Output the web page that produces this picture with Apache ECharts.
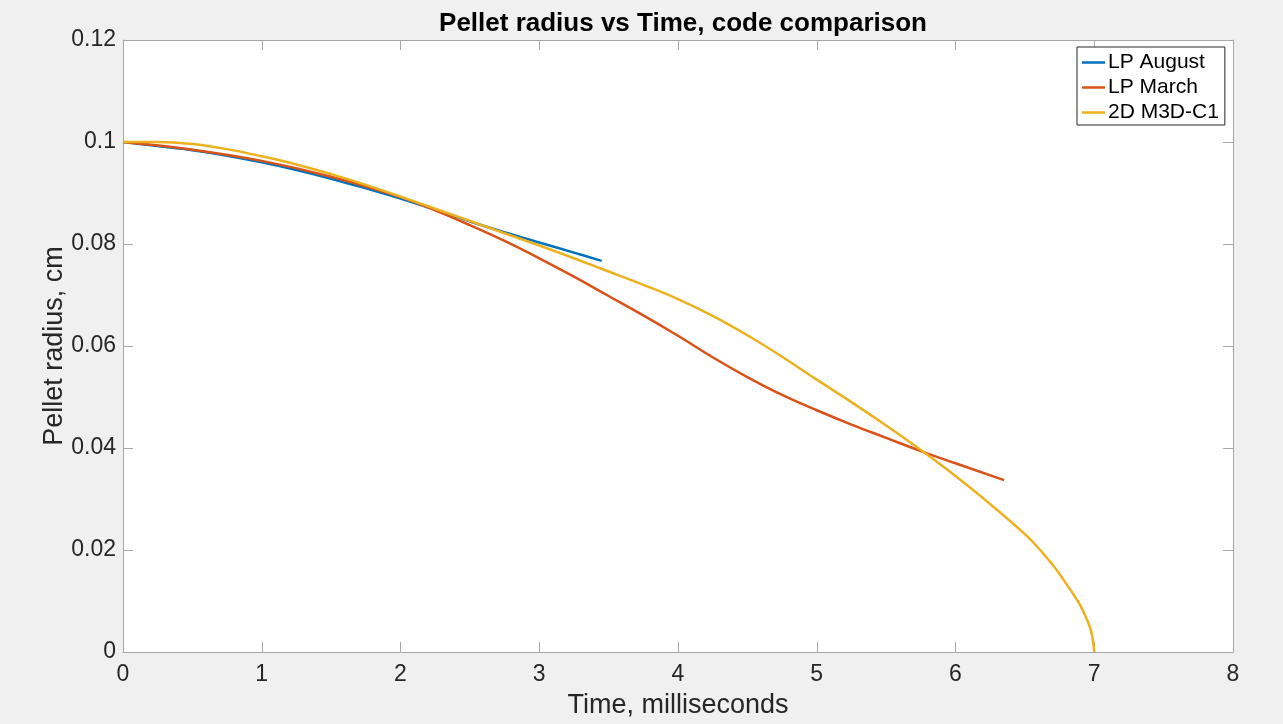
<!DOCTYPE html>
<html>
<head>
<meta charset="utf-8">
<title>Pellet radius vs Time</title>
<script src="https://cdn.jsdelivr.net/npm/echarts@6/dist/echarts.min.js"></script>
<style>
  html, body { margin: 0; padding: 0; background: #f0f0f0; overflow: hidden; }
  #chart { width: 100vw; height: 100vh; }
</style>
</head>
<body>
<div id="chart"></div>
<script>
// Time in milliseconds, radius in cm
const augustTime = [0, 0.25, 0.5, 0.75, 1, 1.25, 1.5, 1.75, 2, 2.25, 2.5, 2.75, 3, 3.25, 3.45];
const augustRadius = [0.1000, 0.0992, 0.0984, 0.0973, 0.0960, 0.0945, 0.0928, 0.0909, 0.0889, 0.0867, 0.0844, 0.0823, 0.0803, 0.0783, 0.0767];

const marchTime = [0, 0.5, 1, 1.5, 2, 2.25, 2.5, 2.75, 3, 3.25, 3.5, 3.75, 4, 4.25, 4.5, 4.75, 5, 5.25, 5.5, 5.75, 6, 6.35];
const marchRadius = [0.1000, 0.0985, 0.0963, 0.0932, 0.0892, 0.0866, 0.0837, 0.0806, 0.0772, 0.0736, 0.0698, 0.0660, 0.0620, 0.0578, 0.0539, 0.0504, 0.0474, 0.0446, 0.0420, 0.0394, 0.0370, 0.0337];

const m3dTime = [0, 0.25, 0.5, 0.75, 1, 1.25, 1.5, 1.75, 2, 2.5, 3, 3.25, 3.5, 3.75, 4, 4.25, 4.5, 4.75, 5, 5.25, 5.5, 5.75, 6, 6.25, 6.5, 6.6, 6.7, 6.75, 6.8, 6.85, 6.9, 6.95, 6.98, 7.0];
const m3dRadius = [0.1000, 0.1000, 0.0996, 0.0986, 0.0972, 0.0956, 0.0937, 0.0916, 0.0893, 0.0845, 0.0797, 0.0772, 0.0746, 0.0720, 0.0692, 0.0659, 0.0621, 0.0579, 0.0534, 0.0490, 0.0444, 0.0396, 0.0345, 0.0290, 0.0231, 0.0203, 0.0171, 0.0153, 0.0133, 0.0113, 0.0091, 0.0062, 0.0038, 0.0];

const seriesNames = ['LP August', 'LP March', '2D M3D-C1'];
const seriesColors = ['#0072BD', '#D95319', '#EDB120'];

const xTicks = { min: 0, max: 8, step: 1 };
const yTicks = { min: 0, max: 0.12, step: 0.02 };

const pairs = (xs, ys) => xs.map((x, i) => [x, ys[i]]);

const FONT = '"Liberation Sans", Arial, Helvetica, sans-serif';
const TEXT = '#262626';
const AXIS = '#a6a6a6';

function axisBase(opts) {
  return Object.assign({
    type: 'value',
    nameMoveOverlap: false,
    axisLine: { show: true, onZero: false, lineStyle: { color: AXIS, width: 1 } },
    axisTick: { show: true, inside: true, length: 10, lineStyle: { color: AXIS, width: 1 } },
    splitLine: { show: false },
    axisLabel: { show: false }
  }, opts);
}

const chart = echarts.init(document.getElementById('chart'), null, { renderer: 'canvas' });

chart.setOption({
  backgroundColor: '#f0f0f0',
  animation: false,
  textStyle: { fontFamily: FONT },
  title: {
    text: 'Pellet radius vs Time, code comparison',
    left: 678,
    textAlign: 'center',
    top: 6,
    textStyle: { fontFamily: FONT, fontSize: 26, fontWeight: 'bold', color: '#000' }
  },
  grid: {
    left: 123, width: 1110, top: 40, height: 615,
    show: true, backgroundColor: '#ffffff', borderWidth: 0
  },
  legend: {
    orient: 'vertical',
    left: 1077,
    top: 47,
    data: seriesNames,
    icon: 'rect',
    itemWidth: 23,
    itemHeight: 2.5,
    itemGap: 4,
    padding: [5, 6, 2, 5],
    backgroundColor: '#ffffff',
    borderColor: '#262626',
    borderWidth: 1,
    textStyle: { fontFamily: FONT, fontSize: 21, color: '#000', padding: [0, 0, 0, -2] }
  },
  xAxis: [
    axisBase({
      position: 'bottom',
      min: xTicks.min, max: xTicks.max, interval: xTicks.step,
      name: 'Time, milliseconds',
      nameLocation: 'middle',
      nameGap: 40,
      nameTextStyle: { fontFamily: FONT, fontSize: 27, color: TEXT },
      axisLabel: { show: true, fontFamily: FONT, fontSize: 23, color: TEXT, margin: 11 }
    }),
    axisBase({ position: 'top', min: xTicks.min, max: xTicks.max, interval: xTicks.step })
  ],
  yAxis: [
    axisBase({
      position: 'left',
      min: yTicks.min, max: yTicks.max, interval: yTicks.step,
      name: 'Pellet radius, cm',
      nameLocation: 'middle',
      nameGap: 55,
      nameRotate: 90,
      nameTextStyle: { fontFamily: FONT, fontSize: 27, color: TEXT },
      axisLabel: { show: true, fontFamily: FONT, fontSize: 23, color: TEXT, margin: 7 }
    }),
    axisBase({ position: 'right', min: yTicks.min, max: yTicks.max, interval: yTicks.step })
  ],
  series: [
    { name: seriesNames[0], data: pairs(augustTime, augustRadius), color: seriesColors[0], z: 3 },
    { name: seriesNames[1], data: pairs(marchTime, marchRadius), color: seriesColors[1], z: 3 },
    { name: seriesNames[2], data: pairs(m3dTime, m3dRadius), color: seriesColors[2], z: 4 }
  ].map(s => Object.assign({
    type: 'line',
    xAxisIndex: 0,
    yAxisIndex: 0,
    smooth: 0.4,
    showSymbol: false,
    symbol: 'none',
    lineStyle: { width: 2.5, color: s.color },
    itemStyle: { color: s.color }
  }, s))
});
</script>
</body>
</html>
